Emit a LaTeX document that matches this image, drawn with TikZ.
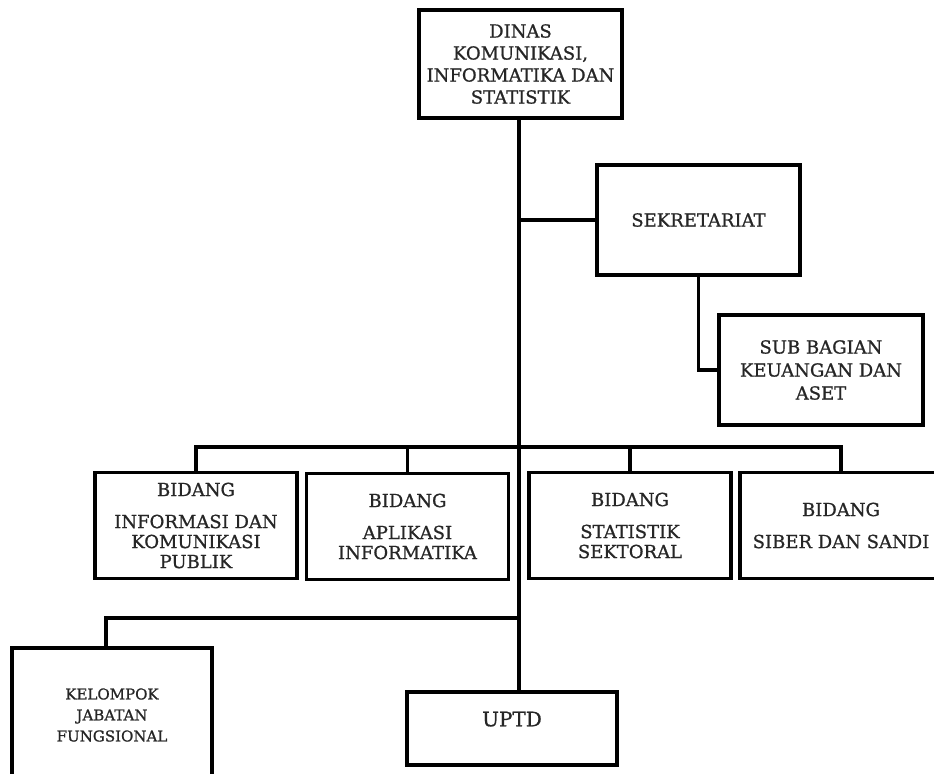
\documentclass[tikz,border=0pt]{standalone}
\usepackage{fontspec}
\setmainfont[FakeBold=0.9]{DejaVu Serif}
\usetikzlibrary{calc}

\tikzset{
  unit/.style={draw, line width=1.7pt, align=center, inner sep=2pt, text=black!85,
    font=\fontsize{9}{11}\selectfont},
  bidang/.style={unit, minimum width=101pt, minimum height=53pt,
    font=\fontsize{9}{10}\selectfont},
  link/.style={line width=1.7pt}
}

\begin{document}
\begin{tikzpicture}[x=0.5pt,y=-0.5pt]
  \useasboundingbox (0,0) rectangle (934,773);
  \clip (0,0) rectangle (934,773);

  \node[unit, minimum width=101.5pt, minimum height=54pt] (dinas) at (520.5,64)
    {DINAS\\KOMUNIKASI,\\INFORMATIKA DAN\\STATISTIK};
  \node[unit, minimum width=101.5pt, minimum height=55pt] (sekre) at (698.5,220) {SEKRETARIAT};
  \node[unit, minimum width=102pt, minimum height=55pt,
    font=\fontsize{9}{11.5}\selectfont] (keu) at (821,370) {SUB BAGIAN\\KEUANGAN DAN\\ASET};

  \node[bidang] (b1) at (196,525.5) {BIDANG\\[6pt]INFORMASI DAN\\KOMUNIKASI\\PUBLIK};
  \node[bidang] (b2) at (407.5,526.5) {BIDANG\\[6pt]APLIKASI\\INFORMATIKA};
  \node[bidang] (b3) at (630,525.5) {BIDANG\\[6pt]STATISTIK\\SEKTORAL};
  \node[bidang] (b4) at (841,525.5) {BIDANG\\[6pt]SIBER DAN SANDI};

  \node[unit, minimum width=100pt, minimum height=67pt,
    font=\fontsize{7.5}{10.5}\selectfont] (kel) at (112,715) {KELOMPOK\\JABATAN\\FUNGSIONAL};
  \node[unit, minimum width=105pt, minimum height=36.5pt, text depth=9.5pt,
    font=\fontsize{10}{12}\selectfont] (uptd) at (512,728.5) {UPTD};

  \coordinate (bus) at (519,447);
  \coordinate (fork) at (519,618);

  \draw[link] (dinas.south -| bus) -- (uptd.north -| bus);
  \draw[link] (sekre.west) -- (sekre.west -| bus);
  \draw[link] (sekre.south) |- (keu.west);
  \draw[link] (b1.north) |- (bus) -| (b4.north);
  \draw[link] (b2.north) -- (b2.north |- bus);
  \draw[link] (b3.north) -- (b3.north |- bus);
  \draw[link] ([xshift=-3pt]kel.north) |- (fork);
\end{tikzpicture}
\end{document}
